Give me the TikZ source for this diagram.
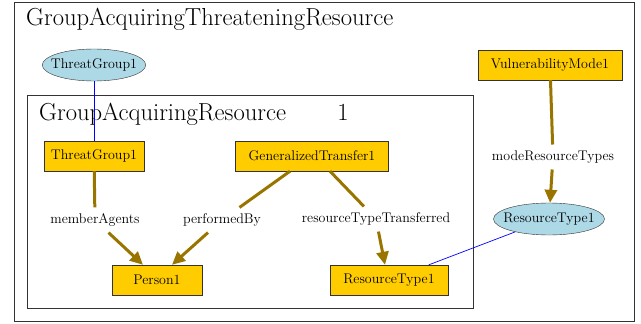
\documentclass[tikz,border=0pt]{standalone}
\usepackage{fontspec}
\usetikzlibrary{arrows.meta,shapes.geometric}
\definecolor{relcol}{RGB}{153,117,0}
\definecolor{boxfill}{RGB}{255,204,0}
\definecolor{ellfill}{RGB}{173,216,230}
\begin{document}
\begin{tikzpicture}[x=1pt,y=-1pt,
    inst/.style={shape=rectangle,draw=black!80,fill=boxfill,minimum height=30pt,inner sep=0pt,font=\fontsize{14}{16}\selectfont},
    ref/.style={shape=ellipse,draw=black!80,fill=ellfill,minimum height=32pt,inner xsep=-6.5pt,inner ysep=0pt,font=\fontsize{14}{16}\selectfont},
    rel/.style={inner sep=6pt,font=\fontsize{14}{16}\selectfont},
    title/.style={inner sep=0pt,font=\fontsize{24.6}{28}\selectfont},
    link/.style={draw=relcol,line width=3pt},
    linkto/.style={link,-{Triangle[length=13pt,width=12pt]}},
    same/.style={draw=blue,line width=0.7pt}]
    \useasboundingbox (0,0) rectangle (641,324);

    % clusters
    \draw[black!80,line width=1pt] (14,2) rectangle (634,321);
    \draw[black!80,line width=1pt] (27,95) rectangle (473,308);
    \node[title,anchor=base west] (outer) at (26,25) {GroupAcquiringThreateningResource};
    \node[title,anchor=base west] (inner) at (39,120) {GroupAcquiringResource};
    \node[title,anchor=base] (num) at (343,120) {1};

    % nodes
    \node[ref,minimum width=102pt] (tge) at (94,65) {ThreatGroup1};
    \node[inst,minimum width=144pt] (vm) at (550,65) {VulnerabilityMode1};
    \node[inst,minimum width=100pt] (tg) at (94,156) {ThreatGroup1};
    \node[inst,minimum width=153pt] (gt) at (312,156) {GeneralizedTransfer1};
    \node[ref,minimum width=111pt] (rte) at (549,219) {ResourceType1};
    \node[inst,minimum width=90pt] (p) at (157,280) {Person1};
    \node[inst,minimum width=118pt] (rt) at (389,280) {ResourceType1};

    % relation labels
    \node[rel] (ma) at (95,220) {memberAgents};
    \node[rel] (pb) at (222,220) {performedBy};
    \node[rel] (rtt) at (376,219) {resourceTypeTransferred};
    \node[rel] (mrt) at (553,157) {modeResourceTypes};

    \path[link] (tg) -- (ma);
    \path[linkto] (ma) -- ([xshift=-14pt]p.north);
    \path[link] ([xshift=-22pt]gt.south) -- (pb);
    \path[linkto] (pb) -- ([xshift=15pt]p.north);
    \path[link] ([xshift=18pt]gt.south) -- (rtt);
    \path[linkto] (rtt) -- ([xshift=-4pt]rt.north);
    \path[link] (vm) -- (mrt);
    \path[linkto] (mrt) -- (rte);

    \path[same] (tge) -- (tg);
    \path[same] (rte) -- (rt);
\end{tikzpicture}
\end{document}
